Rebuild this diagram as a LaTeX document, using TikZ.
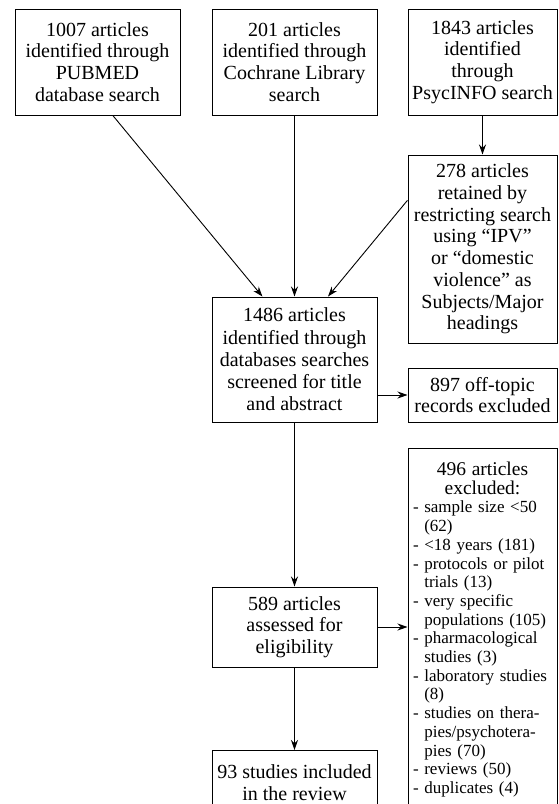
\documentclass[tikz,border=0pt]{standalone}
\usepackage{fontspec}
\setmainfont{Liberation Serif}
\usetikzlibrary{arrows.meta}
\newcommand{\hang}{\hphantom{- }}

\begin{document}
\begin{tikzpicture}[x=1pt, y=-1pt, >={Stealth[length=10pt,width=7pt]},
    rec/.style={draw, line width=1pt, align=center, inner sep=2pt,
        font=\fontsize{20}{21.7}\selectfont},
    arr/.style={->, line width=0.9pt}]
        \useasboundingbox (0,0) rectangle (559,804);
        \clip (0,0) rectangle (559,804);
        \node [rec, minimum width=165pt, minimum height=106pt] (pubmed) at (97.5,62) {1007 articles\\identified through\\PUBMED\\database search};
        \node [rec, minimum width=165pt, minimum height=106pt] (cochrane) at (294.5,62) {201 articles\\identified through\\Cochrane Library\\search};
        \node [rec, minimum width=149pt, minimum height=106pt] (psyc) at (482.5,62) {1843 articles\\identified\\through\\PsycINFO search};
        \node [rec, minimum width=149pt, minimum height=188pt] (restrict) at (482.5,249) {278 articles\\retained by\\restricting search\\using “IPV”\\or “domestic\\violence” as\\Subjects/Major\\headings};
        \node [rec, minimum width=165pt, minimum height=125pt, font=\fontsize{20}{22.3}\selectfont] (screen) at (294.5,359.5) {1486 articles\\identified through\\databases searches\\screened for title\\and abstract};
        \node [rec, minimum width=149pt, minimum height=54pt] (offtopic) at (482.5,395) {897 off-topic\\records excluded};
        \node [rec, anchor=north, text width=139pt, inner xsep=5pt, inner ysep=13.5pt, align=left, font=\fontsize{17}{18.7}\selectfont] (excluded) at (482.5,448) {{\centering\fontsize{19.5}{18.7}\selectfont 496 articles\\excluded:\par}- sample size <50\\\hang(62)\\- <18 years (181)\\- protocols or pilot\\\hang trials (13)\\- very specific\\\hang populations (105)\\- pharmacological\\\hang studies (3)\\- laboratory studies\\\hang(8)\\- studies on thera-\\\hang pies/psychotera-\\\hang pies (70)\\- reviews (50)\\- duplicates (4)};
        \node [rec, minimum width=165pt, minimum height=80pt] (eligible) at (294.5,627) {589 articles\\assessed for\\eligibility};
        \node [rec, anchor=north, minimum width=165pt, minimum height=64pt] (included) at (294.5,750) {93 studies included\\in the review};

        \draw [arr] (pubmed.-74) -- (screen.117);
        \draw [arr] (cochrane) -- (screen);
        \draw [arr] (psyc) -- (restrict);
        \draw [arr] (restrict.147) -- (screen.62);
        \draw [arr] (screen.east |- offtopic) -- (offtopic);
        \draw [arr] (screen) -- (eligible);
        \draw [arr] (eligible) -- (eligible -| excluded.west);
        \draw [arr] (eligible) -- (included);
    \end{tikzpicture}
\end{document}
